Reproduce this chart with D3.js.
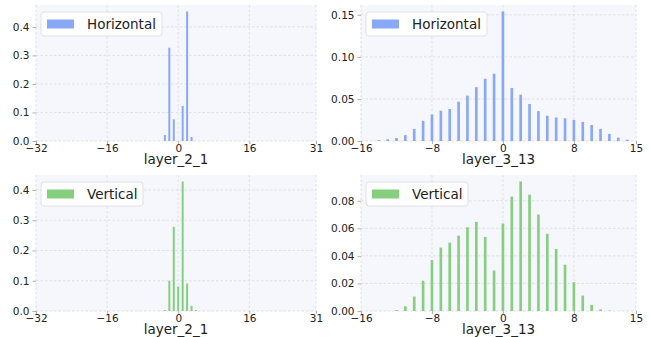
<!DOCTYPE html>
<html><head><meta charset="utf-8">
<script src="https://cdn.jsdelivr.net/npm/d3@7"></script>
<style>body{margin:0;background:#fff;} svg{display:block;font-family:"DejaVu Sans",sans-serif;}</style>
</head><body>
<svg id="c" width="650" height="337"></svg>
<script>
// ---- data ----
const l21Bins = [-3, -2, -1, 1, 2, 3];
const l21Horizontal = [0.021, 0.327, 0.076, 0.123, 0.454, 0.014];
const l21VBins = [-3, -2, -1, 0, 1, 2, 3, 4];
const l21Vertical = [0.003, 0.100, 0.278, 0.081, 0.428, 0.091, 0.017, 0.003];
const l313Bins = [-14,-13,-12,-11,-10,-9,-8,-7,-6,-5,-4,-3,-2,-1,0,1,2,3,4,5,6,7,8,9,10,11,12,13,14];
const l313Horizontal = [0.001,0.002,0.0036,0.007,0.0144,0.024,0.0315,0.036,0.038,0.0467,0.054,0.064,0.074,0.080,0.154,0.063,0.055,0.044,0.0355,0.030,0.028,0.027,0.025,0.0227,0.019,0.0144,0.0084,0.004,0.0016];
const l313VBins = [-12,-11,-10,-9,-8,-7,-6,-5,-4,-3,-2,-1,0,1,2,3,4,5,6,7,8,9,10,11,12];
const l313Vertical = [0.0007,0.0034,0.0105,0.022,0.037,0.046,0.0496,0.0547,0.0608,0.0647,0.0537,0.0294,0.0635,0.083,0.094,0.0844,0.070,0.056,0.045,0.0336,0.0209,0.0112,0.0044,0.0012,0.0003];
const l21XTicks = [-32, -16, 0, 16, 31];
const l313XTicks = [-16, -8, 0, 8, 15];
const l21YTicksH = [0.0, 0.1, 0.2, 0.3, 0.4];
const l21YTicksV = [0.0, 0.1, 0.2, 0.3, 0.4];
const l313YTicksH = [0.00, 0.05, 0.10, 0.15];
const l313YTicksV = [0.00, 0.02, 0.04, 0.06, 0.08];

const svg = d3.select("#c");
const BLUE = "#8aa8f8", GREEN = "#86cf7e";

function panel(o) {
  const g = svg.append("g");
  const x = d3.scaleLinear().domain(o.xdom).range([o.x0, o.x1]);
  const ymax = d3.max(o.vals) * 1.05;
  const y = d3.scaleLinear().domain([0, ymax]).range([o.y1, o.y0]);
  g.append("rect").attr("x", o.x0).attr("y", o.y0).attr("width", o.x1 - o.x0).attr("height", o.y1 - o.y0).attr("fill", "#f6f7fc");
  // grid
  g.selectAll(".gx").data(o.xticks).enter().append("line")
    .attr("x1", d => x(d)).attr("x2", d => x(d)).attr("y1", o.y0).attr("y2", o.y1)
    .attr("stroke", "#d9d9dd").attr("stroke-width", 0.8).attr("stroke-dasharray", "2.5,2");
  g.selectAll(".gy").data(o.yticks).enter().append("line")
    .attr("x1", o.x0).attr("x2", o.x1).attr("y1", d => y(d)).attr("y2", d => y(d))
    .attr("stroke", "#d9d9dd").attr("stroke-width", 0.8).attr("stroke-dasharray", "2.5,2");
  // bars
  const bw = o.bw;
  g.selectAll(".bar").data(o.bins.map((b, i) => [b, o.vals[i]])).enter().append("rect")
    .attr("x", d => x(d[0] - bw / 2)).attr("width", x(bw) - x(0))
    .attr("y", d => y(d[1])).attr("height", d => y(0) - y(d[1]))
    .attr("fill", o.color);
  // axes
  const xa = g.append("g").attr("transform", `translate(0,${o.y1})`)
    .call(d3.axisBottom(x).tickValues(o.xticks).tickSize(3).tickPadding(1).tickFormat(d => d < 0 ? "\u2212" + Math.abs(d) : d));
  const ya = g.append("g").attr("transform", `translate(${o.x0},0)`)
    .call(d3.axisLeft(y).tickValues(o.yticks).tickSize(3.5).tickPadding(3).tickFormat(d3.format(o.yfmt)));
  [xa, ya].forEach(a => {
    a.select(".domain").remove();
    a.selectAll(".tick line").attr("stroke", "#b0b0b0");
    a.selectAll("text").attr("fill", "#222").attr("font-size", 10.5).attr("font-family", "DejaVu Sans");
  });
  g.append("text").attr("x", (o.x0 + o.x1) / 2).attr("y", o.y1 + 23).attr("text-anchor", "middle")
    .attr("font-size", 13.5).attr("fill", "#222").text(o.xlabel);
  // legend
  const lg = g.append("g").attr("transform", `translate(${o.x0 + 5},${o.y0 + 7})`);
  lg.append("rect").attr("width", o.legW).attr("height", 24).attr("rx", 3)
    .attr("fill", "#fff").attr("fill-opacity", 0.85).attr("stroke", "#dcdcdc").attr("stroke-width", 0.8);
  lg.append("rect").attr("x", 6).attr("y", 7.5).attr("width", 27).attr("height", 9).attr("fill", o.color);
  lg.append("text").attr("x", 46).attr("y", 17).attr("font-size", 13.5).attr("fill", "#222").text(o.label);
}

panel({x0: 36, x1: 316, y0: 5, y1: 141, xdom: [-32, 31], bins: l21Bins, vals: l21Horizontal, bw: 0.45,
  xticks: l21XTicks, yticks: l21YTicksH, yfmt: ".1f", color: BLUE, label: "Horizontal", legW: 121, xlabel: "layer_2_1"});
panel({x0: 361, x1: 636, y0: 5, y1: 141, xdom: [-16, 15], bins: l313Bins, vals: l313Horizontal, bw: 0.3,
  xticks: l313XTicks, yticks: l313YTicksH, yfmt: ".2f", color: BLUE, label: "Horizontal", legW: 121, xlabel: "layer_3_13"});
panel({x0: 36, x1: 316, y0: 175, y1: 311, xdom: [-32, 31], bins: l21VBins, vals: l21Vertical, bw: 0.45,
  xticks: l21XTicks, yticks: l21YTicksV, yfmt: ".1f", color: GREEN, label: "Vertical", legW: 102, xlabel: "layer_2_1"});
panel({x0: 361, x1: 636, y0: 175, y1: 311, xdom: [-16, 15], bins: l313VBins, vals: l313Vertical, bw: 0.3,
  xticks: l313XTicks, yticks: l313YTicksV, yfmt: ".2f", color: GREEN, label: "Vertical", legW: 102, xlabel: "layer_3_13"});
</script>
</body></html>
